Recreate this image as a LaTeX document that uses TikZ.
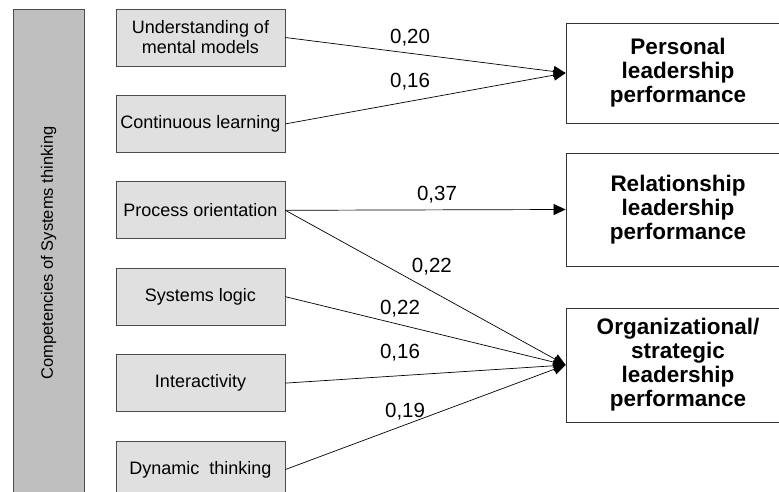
\documentclass[tikz,border=0pt]{standalone}
\usepackage{fontspec}
\setmainfont{Liberation Sans}
\usetikzlibrary{positioning,arrows.meta}

\begin{document}
\begin{tikzpicture}
	[x=1bp,y=-1bp,node distance=28.6bp,
	every node/.style={inner sep=0pt},
	bar/.style={draw=black!70,fill=black!25,line width=0.8bp,rotate=90,
		minimum width=488bp,minimum height=71bp,
		font=\fontsize{16.5bp}{19bp}\selectfont},
	compbox/.style={draw=black!70,fill=black!12,line width=0.8bp,align=center,
		minimum width=169bp,minimum height=57bp,
		font=\fontsize{18bp}{20bp}\selectfont},
	outbox/.style={draw=black!80,fill=white,line width=0.8bp,align=center,
		minimum width=224bp,font=\bfseries\fontsize{22.5bp}{24bp}\selectfont},
	weight/.style={font=\fontsize{20.5bp}{24bp}\selectfont},
	link/.style={-{Triangle[length=12bp,width=11bp]},line width=0.7bp}]
	\useasboundingbox (0,0) rectangle (779,492);
	\clip (0,0) rectangle (779,492);

	\node[bar] (comp) at (48.5,253) {Competencies of Systems thinking};

	% competencies
	\node[compbox] (um) at (200.5,37.5) {Understanding of\\mental models};
	\node[compbox,below=of um] (cl) {Continuous learning};
	\node[compbox,below=of cl] (po) {Process orientation};
	\node[compbox,below=of po] (sl) {Systems logic};
	\node[compbox,below=of sl] (ia) {Interactivity};
	\node[compbox,below=of ia] (dt) {Dynamic~ thinking};

	% leadership performance
	\node[outbox,minimum height=100bp] (per) at (678,73) {Personal\\leadership\\performance};
	\node[outbox,minimum height=113bp] (rel) at (678,209.5) {Relationship\\leadership\\performance};
	\node[outbox,minimum height=114bp] (org) at (678,365) {Organizational/\\strategic\\leadership\\performance};

	\draw[link] (um.east) -- node[weight,pos=.445,above=7bp] (w1) {0,20} (per.west);
	\draw[link] (cl.east) -- node[weight,pos=.445,above=11.1bp] (w2) {0,16} (per.west);
	\draw[link] (po.east) -- node[weight,pos=.541,above=6.4bp] (w3) {0,37} (rel.west);
	\draw[link] (po.east) -- node[weight,pos=.523,above=15.5bp] (w4) {0,22} (org.west);
	\draw[link] (sl.east) -- node[weight,pos=.409,above=6.7bp] (w5) {0,22} (org.west);
	\draw[link] (ia.east) -- node[weight,pos=.409,above=13.8bp] (w6) {0,16} (org.west);
	\draw[link] (dt.east) -- node[weight,pos=.427,above=4.6bp] (w7) {0,19} (org.west);
\end{tikzpicture}
\end{document}
